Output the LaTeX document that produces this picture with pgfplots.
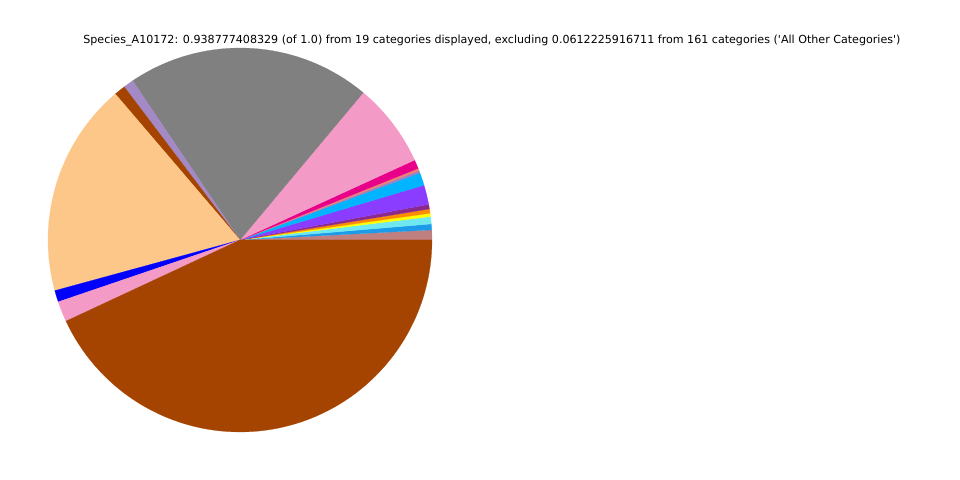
\documentclass[border=0pt]{standalone}
\usepackage{pgfplots}
\pgfplotsset{compat=1.18}
\usepackage{fontspec}
\setmainfont{DejaVu Sans}

\definecolor{cRosy}{HTML}{C08080}
\definecolor{cDodger}{HTML}{1E9BE8}
\definecolor{cCyan}{HTML}{70E8F0}
\definecolor{cYellow}{HTML}{FFFF00}
\definecolor{cOrange}{HTML}{FF8C00}
\definecolor{cDarkMag}{HTML}{8B2A8B}
\definecolor{cViolet}{HTML}{8B3DFF}
\definecolor{cSky}{HTML}{00B4FF}
\definecolor{cGrayPurp}{HTML}{A080C0}
\definecolor{cSalmon}{HTML}{F08070}
\definecolor{cMagenta}{HTML}{E8008A}
\definecolor{cPink}{HTML}{F49AC6}
\definecolor{cGray}{HTML}{808080}
\definecolor{cLilac}{HTML}{A38AC6}
\definecolor{cBrown}{HTML}{A54400}
\definecolor{cPeach}{HTML}{FDC78A}
\definecolor{cBlue}{HTML}{0000FF}

% one wedge: start angle, end angle (degrees, counter-clockwise from east), colour
\newcommand{\slice}[3]{%
  \addplot[fill=#3, draw=#3, line width=0.1pt, domain=#1:#2, variable=\t]
    ({240+192*cos(\t)},{240+192*sin(\t)}) -- (axis cs:240,240) -- cycle;}

\begin{document}
\begin{tikzpicture}
\begin{axis}[
  scale only axis, width=480pt, height=240pt,
  xmin=0, xmax=960, ymin=0, ymax=480,
  hide axis, clip=false, samples=80,
]
\path (rel axis cs:0,0) rectangle (rel axis cs:1,1);
\slice{0}{3.0}{cRosy}
\slice{3.0}{4.8}{cDodger}
\slice{4.8}{7.0}{cCyan}
\slice{7.0}{8.0}{cYellow}
\slice{8.0}{9.3}{cOrange}
\slice{9.3}{10.7}{cDarkMag}
\slice{10.7}{16.6}{cViolet}
\slice{16.6}{20.5}{cSky}
\slice{20.5}{21.2}{cGrayPurp}
\slice{21.2}{21.9}{cSalmon}
\slice{21.9}{24.6}{cMagenta}
\slice{24.6}{50.1}{cPink}
\slice{50.1}{124.0}{cGray}
\slice{124.0}{127.1}{cLilac}
\slice{127.1}{130.5}{cBrown}
\slice{130.5}{195.3}{cPeach}
\slice{195.3}{198.8}{cBlue}
\slice{198.8}{205.0}{cPink}
\slice{205.0}{360}{cBrown}
\node[font=\fontsize{5.55}{6.5}\selectfont, anchor=center] at (axis cs:492,439)
  {Species\_A10172: 0.938777408329 (of 1.0) from 19 categories displayed, excluding 0.0612225916711 from 161 categories (\textquotesingle All Other Categories\textquotesingle)};
\end{axis}
\end{tikzpicture}
\end{document}
